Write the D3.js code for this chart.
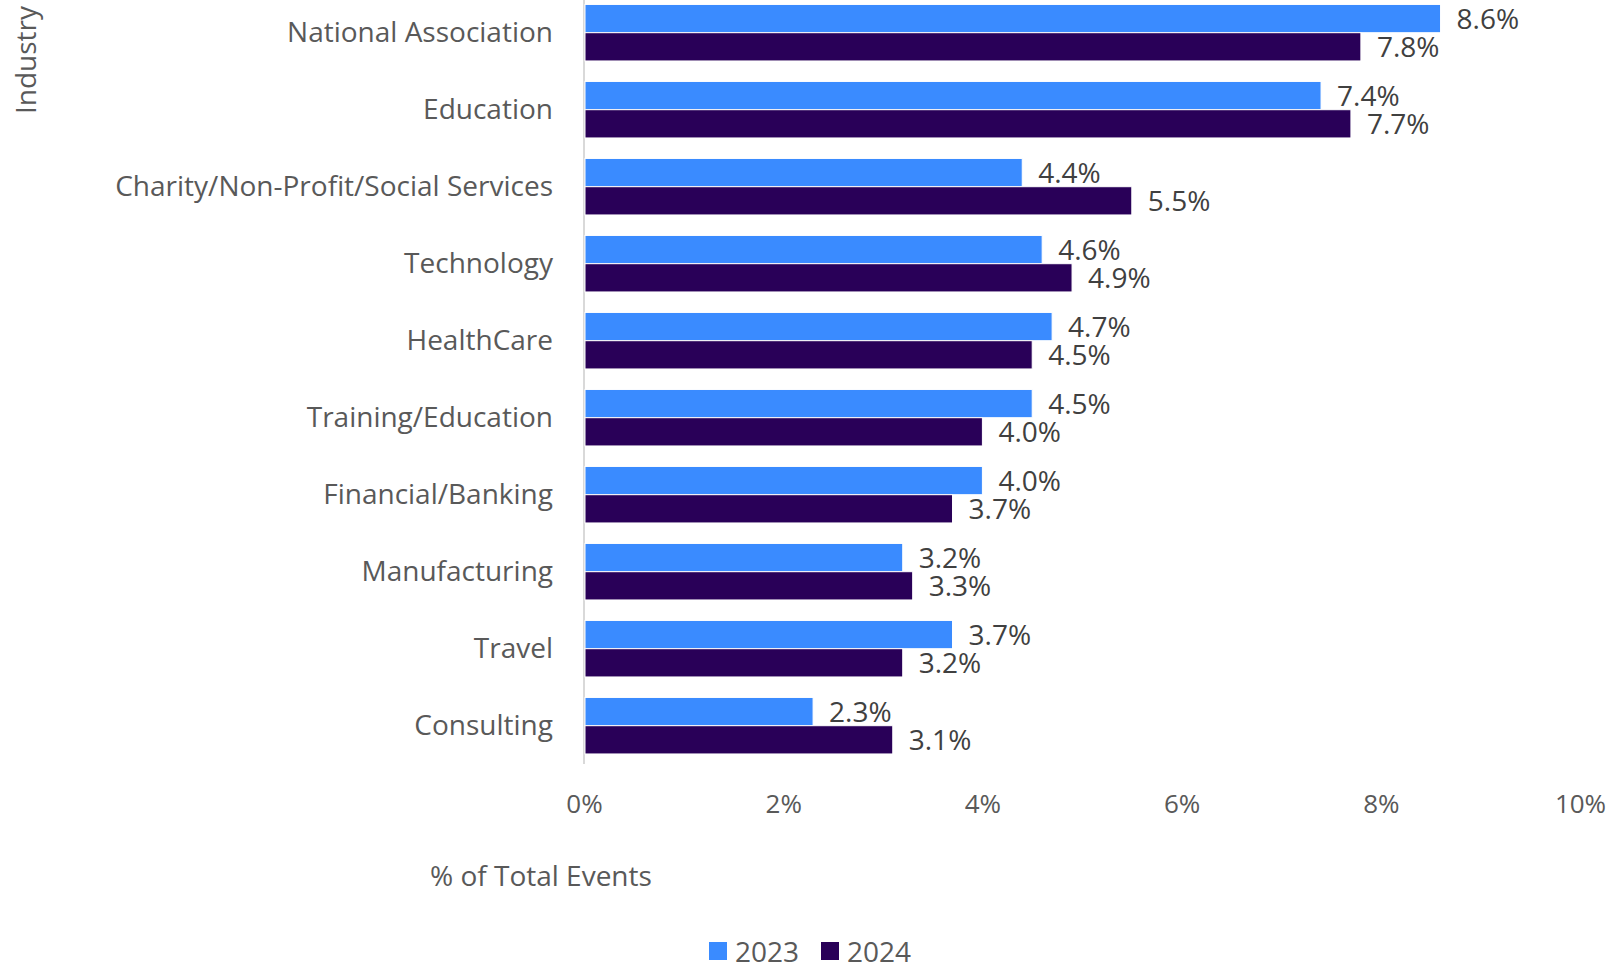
<!DOCTYPE html>
<html>
<head>
<meta charset="utf-8">
<script src="https://cdn.jsdelivr.net/npm/d3@7"></script>
<style>
  body { margin: 0; background: #fff; }
  svg { display: block; font-family: "Open Sans", sans-serif; }
</style>
</head>
<body>
<svg width="1614" height="965"></svg>
<script>
var categories = ["National Association", "Education", "Charity/Non-Profit/Social Services",
  "Technology", "HealthCare", "Training/Education", "Financial/Banking",
  "Manufacturing", "Travel", "Consulting"];
var years = ["2023", "2024"];
var values2023 = [8.6, 7.4, 4.4, 4.6, 4.7, 4.5, 4.0, 3.2, 3.7, 2.3];
var values2024 = [7.8, 7.7, 5.5, 4.9, 4.5, 4.0, 3.7, 3.3, 3.2, 3.1];
var xTicks = [0, 2, 4, 6, 8, 10];
var colors = ["#3a8bff", "#290058"];

var svg = d3.select("svg");

var rows = categories.map(function (c, i) {
  return { name: c, vals: [values2023[i], values2024[i]] };
});

var x = d3.scaleLinear().domain([0, 10]).range([584, 1580]);

var y = d3.scaleBand()
  .domain(categories)
  .range([-5.8, 764.2])
  .paddingInner(0.266)
  .paddingOuter(0.133);

var ySub = d3.scaleBand().domain(years).range([0, y.bandwidth()]);

// vertical axis line
svg.append("line")
  .attr("x1", x(0)).attr("x2", x(0))
  .attr("y1", 0).attr("y2", 764)
  .attr("stroke", "#d9d9d9").attr("stroke-width", 2);

var group = svg.selectAll(".grp")
  .data(rows)
  .enter().append("g")
  .attr("class", "grp")
  .attr("transform", function (d) { return "translate(0," + y(d.name) + ")"; });

group.selectAll("rect")
  .data(function (d) { return d.vals; })
  .enter().append("rect")
  .attr("x", x(0) + 1)
  .attr("y", function (d, i) { return ySub(years[i]); })
  .attr("width", function (d) { return x(d) - x(0) - 1; })
  .attr("height", ySub.bandwidth())
  .attr("fill", function (d, i) { return colors[i]; })
  .attr("stroke", "#fff")
  .attr("stroke-width", 1);

// value labels, right of each bar
group.selectAll(".val")
  .data(function (d) { return d.vals; })
  .enter().append("text")
  .attr("class", "val")
  .attr("x", function (d) { return x(d) + 16; })
  .attr("y", function (d, i) { return ySub(years[i]) + ySub.bandwidth() / 2 - 0.5; })
  .attr("dominant-baseline", "central")
  .attr("font-size", 28)
  .attr("fill", "#404040")
  .text(function (d) { return d.toFixed(1) + "%"; });

// category labels
svg.selectAll(".cat")
  .data(categories)
  .enter().append("text")
  .attr("class", "cat")
  .attr("x", 553)
  .attr("y", function (d) { return y(d) + y.bandwidth() / 2 - 2; })
  .attr("text-anchor", "end")
  .attr("dominant-baseline", "central")
  .attr("font-size", 28)
  .attr("fill", "#595959")
  .text(function (d) { return d; });

// x axis
var xAxis = svg.append("g")
  .attr("transform", "translate(0,790)")
  .call(d3.axisBottom(x).tickValues(xTicks).tickSize(0).tickFormat(function (d) { return d + "%"; }));
xAxis.select(".domain").remove();
xAxis.selectAll("text")
  .attr("font-family", "Open Sans, sans-serif")
  .attr("font-size", 26)
  .attr("fill", "#595959")
  .attr("dy", "0.32em")
  .attr("y", 15);

// axis titles
svg.append("text")
  .attr("x", 430).attr("y", 875)
  .attr("dominant-baseline", "central")
  .attr("font-size", 28)
  .attr("fill", "#595959")
  .text("% of Total Events");

svg.append("text")
  .attr("transform", "translate(36,60) rotate(-90)")
  .attr("text-anchor", "middle")
  .attr("font-size", 28)
  .attr("fill", "#595959")
  .text("Industry");

// legend
var legendX = [709, 821];
var legend = svg.selectAll(".leg")
  .data(years)
  .enter().append("g")
  .attr("class", "leg")
  .attr("transform", function (d, i) { return "translate(" + legendX[i] + ",942)"; });
legend.append("rect")
  .attr("width", 18).attr("height", 18)
  .attr("fill", function (d, i) { return colors[i]; });
legend.append("text")
  .attr("x", 26).attr("y", 9)
  .attr("dominant-baseline", "central")
  .attr("font-size", 28)
  .attr("fill", "#595959")
  .text(function (d) { return d; });
</script>
</body>
</html>
